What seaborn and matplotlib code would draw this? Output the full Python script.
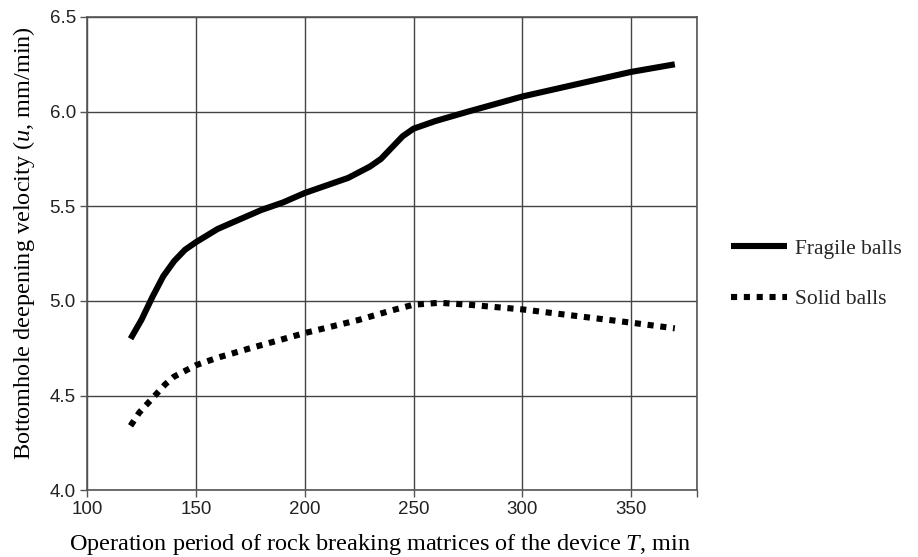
import matplotlib
matplotlib.use("Agg")
import matplotlib.pyplot as plt
import seaborn as sns
import pandas as pd

# Fragile balls
fragile_T = [120, 125, 130, 135, 140, 145, 150, 160, 170, 180, 190, 200, 210, 220, 230,
             235, 240, 245, 250, 260, 275, 300, 325, 350, 370]
fragile_u = [4.80, 4.90, 5.02, 5.13, 5.21, 5.27, 5.31, 5.38, 5.43, 5.48, 5.52, 5.57, 5.61,
             5.65, 5.71, 5.75, 5.81, 5.87, 5.91, 5.95, 6.00, 6.08, 6.145, 6.21, 6.25]
# Solid balls
solid_T = [120, 124, 128, 132, 136, 140, 145, 150, 160, 175, 200, 225, 240, 250, 262, 275,
           300, 325, 350, 370]
solid_u = [4.34, 4.41, 4.46, 4.51, 4.56, 4.60, 4.63, 4.66, 4.70, 4.75, 4.83, 4.90, 4.95,
           4.98, 4.99, 4.98, 4.955, 4.92, 4.885, 4.855]

x_ticks = [100, 150, 200, 250, 300, 350, 380]
x_tick_labels = ["100", "150", "200", "250", "300", "350", ""]
y_ticks = [4.0, 4.5, 5.0, 5.5, 6.0, 6.5]
y_tick_labels = ["4.0", "4.5", "5.0", "5.5", "6.0", "6.5"]

df_f = pd.DataFrame({"T": fragile_T, "u": fragile_u})
df_s = pd.DataFrame({"T": solid_T, "u": solid_u})

sns.set_theme(style="white")
plt.rcParams["font.family"] = ["Liberation Sans", "DejaVu Sans"]
plt.rcParams["mathtext.fontset"] = "custom"
plt.rcParams["mathtext.it"] = "Liberation Serif:italic"
plt.rcParams["mathtext.rm"] = "Liberation Serif"

fig = plt.figure(figsize=(9.18, 5.57), dpi=100)
ax = fig.add_axes([0.0948, 0.120, 0.664, 0.8495])

sns.lineplot(data=df_f, x="T", y="u", ax=ax, color="black", lw=4.4,
             solid_capstyle="butt", label="Fragile balls", sort=False)
sns.lineplot(data=df_s, x="T", y="u", ax=ax, color="black", lw=4.4,
             linestyle=(0, (1, 1.1)), dash_capstyle="butt", label="Solid balls", sort=False)

ax.set_xlim(100, 380)
ax.set_ylim(4.0, 6.5)
ax.set_xticks(x_ticks)
ax.set_xticklabels(x_tick_labels)
ax.set_yticks(y_ticks)
ax.set_yticklabels(y_tick_labels)
ax.grid(True, color="#444444", lw=1.0)
for s in ax.spines.values():
    s.set_color("#555555")
    s.set_linewidth(1.2)
ax.tick_params(axis="both", which="major", direction="out", length=5, width=1,
               color="#555555", labelsize=13.5, labelcolor="#222222", pad=3, bottom=True, left=True)

ax.set_xlabel("Operation period of rock breaking matrices of the device $\\mathit{T}$, min",
              fontfamily="Liberation Serif", fontsize=17.5, color="black")
ax.set_ylabel("Bottomhole deepening velocity ($\\mathit{u}$, mm/min)",
              fontfamily="Liberation Serif", fontsize=17.5, color="black")
ax.xaxis.set_label_coords(0.48, -0.088)
ax.yaxis.set_label_coords(-0.082, 0.522)

leg = ax.legend(loc="center left", bbox_to_anchor=(0.796, 0.508), bbox_transform=fig.transFigure,
                frameon=False, prop={"family": "Liberation Serif", "size": 15.5},
                handlelength=2.6, handletextpad=0.4, labelspacing=1.4, borderaxespad=0,
                borderpad=0)

fig.savefig("out.png", dpi=100)
